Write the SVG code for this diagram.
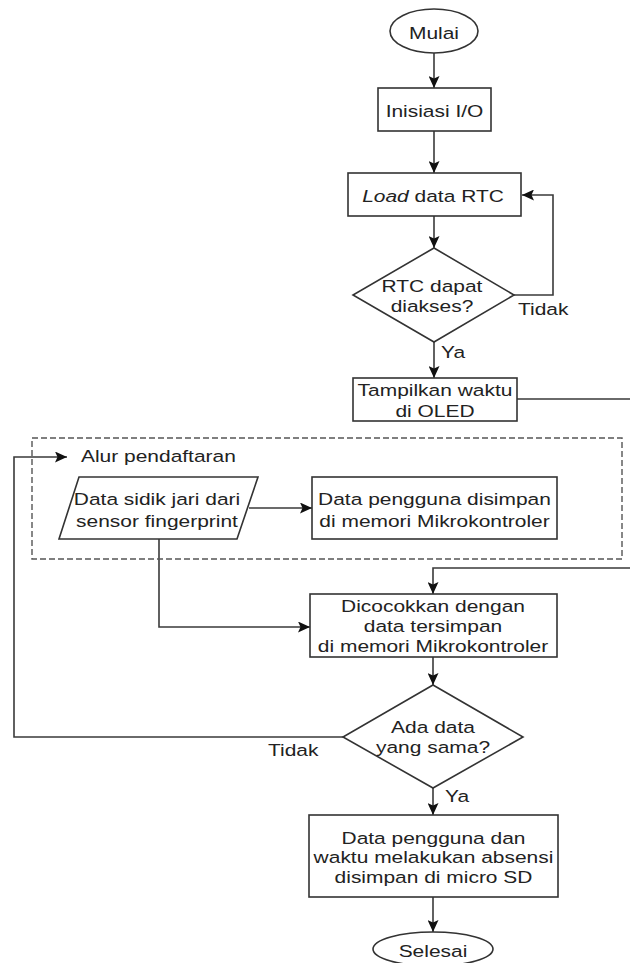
<svg xmlns="http://www.w3.org/2000/svg" width="630" height="963" viewBox="0 0 630 963">
<style>
  .shape { fill: #fff; stroke: #333; stroke-width: 1.6; }
  .dash { fill: none; stroke: #555; stroke-width: 1.4; stroke-dasharray: 6 3; }
  .conn { fill: none; stroke: #3a3a3a; stroke-width: 1.6; }
  text { font-family: "Liberation Sans", Arial, sans-serif; font-size: 16.5px; fill: #222; }
  .c { text-anchor: middle; }
</style>
<defs>
  <marker id="arrow" markerUnits="userSpaceOnUse" markerWidth="13" markerHeight="11" refX="12" refY="5.5" orient="auto">
    <path d="M0,0 L12,5.5 L0,11 L2.5,5.5 z" fill="#111"/>
  </marker>
</defs>
<rect width="630" height="963" fill="#fff"/>

<g id="connectors">
  <path class="conn" d="M434 53 L434 88" marker-end="url(#arrow)"/>
  <path class="conn" d="M434 131 L434 173" marker-end="url(#arrow)"/>
  <path class="conn" d="M434 216 L434 248" marker-end="url(#arrow)"/>
  <path class="conn" d="M514 295 L553 295 L553 195 L522 195" marker-end="url(#arrow)"/>
  <path class="conn" d="M434 342 L434 378" marker-end="url(#arrow)"/>
  <path class="conn" d="M517 399 L634 399 L634 568 L433 568 L433 594" marker-end="url(#arrow)"/>
  <path class="conn" d="M249 508 L312 508" marker-end="url(#arrow)"/>
  <path class="conn" d="M159 539 L159 627 L310 627" marker-end="url(#arrow)"/>
  <path class="conn" d="M433 657 L433 685" marker-end="url(#arrow)"/>
  <path class="conn" d="M343 737 L14 737 L14 457 L67 457" marker-end="url(#arrow)"/>
  <path class="conn" d="M433 788 L433 815" marker-end="url(#arrow)"/>
  <path class="conn" d="M433 897 L433 932" marker-end="url(#arrow)"/>
  <text transform="translate(518 0) scale(1.27 1)" x="0" y="315">Tidak</text>
  <text transform="translate(441 0) scale(1.27 1)" x="0" y="358">Ya</text>
  <text transform="translate(268 0) scale(1.27 1)" x="0" y="756">Tidak</text>
  <text transform="translate(445 0) scale(1.27 1)" x="0" y="802">Ya</text>
</g>

<g id="mulai">
  <ellipse class="shape" cx="434" cy="31" rx="44" ry="22"/>
  <text class="c" transform="translate(434 0) scale(1.27 1)" x="0" y="39">Mulai</text>
</g>

<g id="inisiasi">
  <rect class="shape" x="378" y="88" width="113" height="43"/>
  <text class="c" transform="translate(434.5 0) scale(1.27 1)" x="0" y="117">Inisiasi I/O</text>
</g>

<g id="load-rtc">
  <rect class="shape" x="348" y="173" width="173" height="43"/>
  <text class="c" transform="translate(433 0) scale(1.27 1)" x="0" y="202"><tspan font-style="italic">Load</tspan> data RTC</text>
</g>

<g id="rtc-decision">
  <polygon class="shape" points="434,248 514,295 434,342 353,295"/>
  <text class="c" transform="translate(432 0) scale(1.27 1)"><tspan x="0" y="292">RTC dapat</tspan><tspan x="0" y="312">diakses?</tspan></text>
</g>

<g id="tampilkan">
  <rect class="shape" x="353" y="378" width="164" height="43"/>
  <text class="c" transform="translate(435 0) scale(1.27 1)"><tspan x="0" y="396">Tampilkan waktu</tspan><tspan x="0" y="417">di OLED</tspan></text>
</g>

<g id="alur-pendaftaran">
  <rect class="dash" x="32" y="438" width="590" height="121"/>
  <text transform="translate(81 0) scale(1.27 1)" x="0" y="462">Alur pendaftaran</text>
</g>

<g id="sidik-jari">
  <polygon class="shape" points="79,477 258,477 237,539 59,539"/>
  <text class="c" transform="translate(157 0) scale(1.27 1)"><tspan x="0" y="505">Data sidik jari dari</tspan><tspan x="0" y="527">sensor fingerprint</tspan></text>
</g>

<g id="simpan-memori">
  <rect class="shape" x="312" y="477" width="245" height="62"/>
  <text class="c" transform="translate(434.5 0) scale(1.27 1)"><tspan x="0" y="505">Data pengguna disimpan</tspan><tspan x="0" y="527">di memori Mikrokontroler</tspan></text>
</g>

<g id="dicocokkan">
  <rect class="shape" x="310" y="594" width="247" height="63"/>
  <text class="c" transform="translate(433 0) scale(1.27 1)"><tspan x="0" y="612">Dicocokkan dengan</tspan><tspan x="0" y="632">data tersimpan</tspan><tspan x="0" y="652">di memori Mikrokontroler</tspan></text>
</g>

<g id="data-decision">
  <polygon class="shape" points="433,685 523,737 433,788 343,737"/>
  <text class="c" transform="translate(433 0) scale(1.27 1)"><tspan x="0" y="733">Ada data</tspan><tspan x="0" y="753">yang sama?</tspan></text>
</g>

<g id="simpan-sd">
  <rect class="shape" x="309" y="815" width="249" height="82"/>
  <text class="c" transform="translate(433.5 0) scale(1.27 1)"><tspan x="0" y="844">Data pengguna dan</tspan><tspan x="0" y="863">waktu melakukan absensi</tspan><tspan x="0" y="883">disimpan di micro SD</tspan></text>
</g>

<g id="selesai">
  <ellipse class="shape" cx="433" cy="949" rx="60" ry="17"/>
  <text class="c" transform="translate(433 0) scale(1.27 1)" x="0" y="957">Selesai</text>
</g>
</svg>
